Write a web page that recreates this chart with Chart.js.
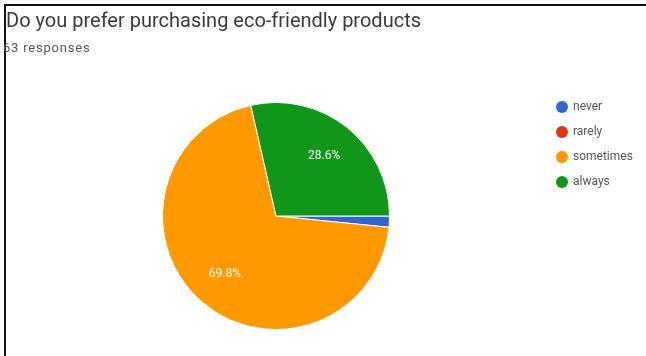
<!DOCTYPE html>
<html>
<head>
  <meta charset="utf-8">
  <script src="https://cdn.jsdelivr.net/npm/chart.js"></script>
  <style>
    body { margin: 0; background: #fff; }
    .wrap { position: relative; width: 646px; height: 356px; overflow: hidden; font-family: Roboto, Arial, sans-serif; }
    .frame { position: absolute; left: 4px; top: 4px; width: 700px; height: 400px; border-top: 2px solid #111; border-left: 2px solid #111; }
    .title { position: absolute; left: 6px; top: 8px; font-size: 20px; color: #3a3a3a; white-space: nowrap; }
    .sub { position: absolute; left: 3px; top: 40px; font-size: 13px; letter-spacing: 0.8px; color: #555; }
    canvas { position: absolute; left: 0; top: 0; }
  </style>
</head>
<body>
<div class="wrap">
  <canvas id="pie" width="646" height="356"></canvas>
  <div class="frame"></div>
  <div class="title">Do you prefer purchasing eco-friendly products</div>
  <div class="sub">63 responses</div>
</div>
<script>
"use strict";
// answers and counts (63 responses)
const answers = ['never', 'rarely', 'sometimes', 'always'];
const counts = [1, 0, 44, 18];
const colors = ['#3366cc', '#dc3912', '#ff9900', '#109618'];

// percentage labels inside slices + legend on the right
const extras = {
  id: 'extras',
  afterDatasetsDraw(chart) {
    const c = chart.ctx;
    const total = counts.reduce((a, b) => a + b, 0);
    const meta = chart.getDatasetMeta(0);
    c.save();
    c.font = '12px Roboto, Arial, sans-serif';
    c.fillStyle = '#fff';
    c.textAlign = 'center';
    c.textBaseline = 'middle';
    meta.data.forEach((arc, i) => {
      const pct = counts[i] / total * 100;
      if (pct < 5) return;
      const mid = (arc.startAngle + arc.endAngle) / 2;
      const r = arc.outerRadius * 0.68;
      c.fillText(pct.toFixed(1) + '%', arc.x + Math.cos(mid) * r, arc.y + Math.sin(mid) * r);
    });
    c.textAlign = 'left';
    answers.forEach((a, i) => {
      const y = 107 + i * 25;
      c.beginPath();
      c.arc(562, y, 6, 0, Math.PI * 2);
      c.fillStyle = colors[i];
      c.fill();
      c.fillStyle = '#555';
      c.fillText(a, 573, y);
    });
    c.restore();
  }
};

new Chart(document.getElementById('pie'), {
  type: 'pie',
  data: {
    labels: answers,
    datasets: [{
      data: counts,
      backgroundColor: colors,
      borderColor: '#fff',
      borderWidth: 1
    }]
  },
  options: {
    responsive: false,
    animation: false,
    rotation: 90,
    layout: { padding: { left: 162, right: 256, top: 102, bottom: 26 } },
    plugins: { legend: { display: false }, tooltip: { enabled: false } }
  },
  plugins: [extras]
});
</script>
</body>
</html>
